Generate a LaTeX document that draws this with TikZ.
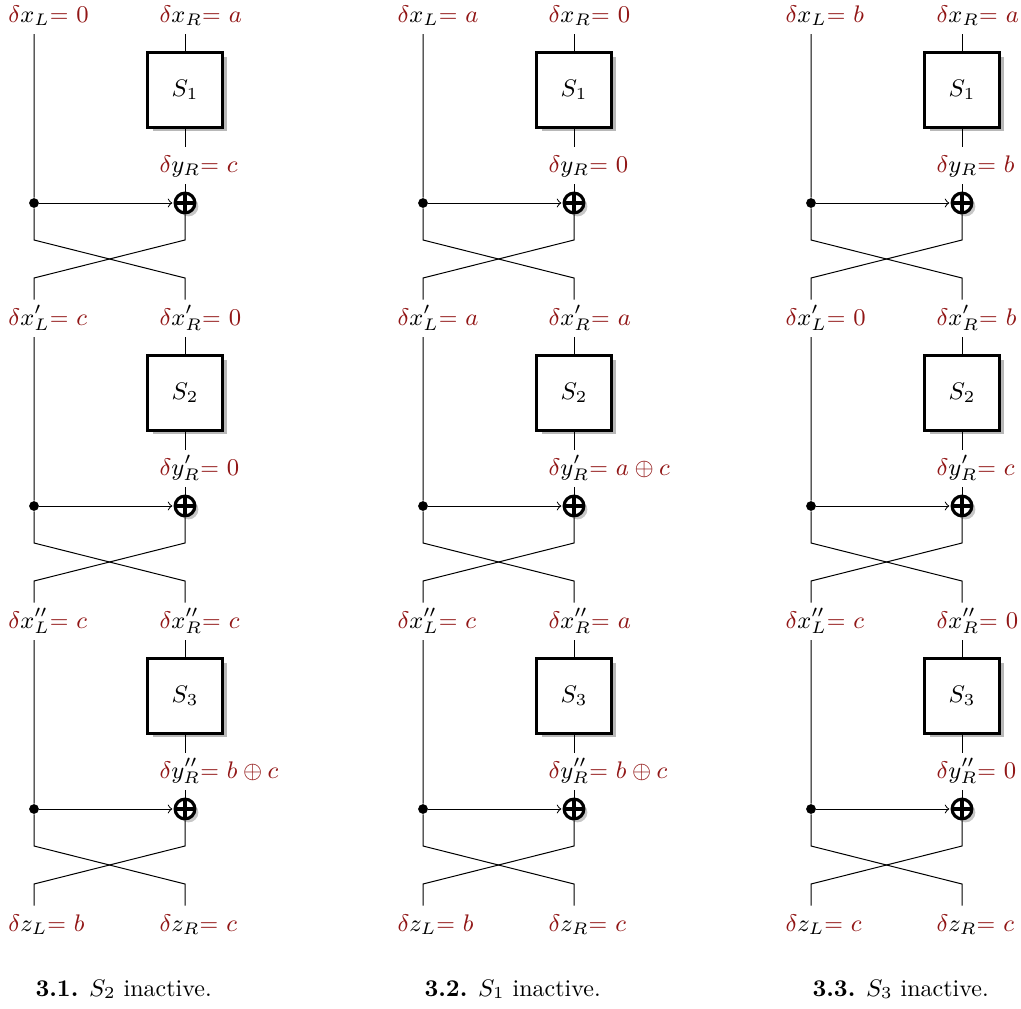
\RequirePackage{fix-cm}
\documentclass[tikz,border=0pt]{standalone}
\usetikzlibrary{shadows}
\definecolor{dred}{RGB}{145,22,22}
\newcommand\rd[1]{\textcolor{dred}{#1}}
\tikzset{
  every node/.style={font=\fontsize{9.6pt}{11.5pt}\selectfont},
  lab/.style={anchor=base west, inner sep=0pt, text height=10pt, text depth=4.6pt},
  sbox/.style={draw, fill=white, line width=1.3pt, minimum size=29.8pt, inner sep=0pt,
    drop shadow={shadow xshift=2pt, shadow yshift=-1.5pt, fill=black!28, opacity=1}},
  xorn/.style={circle, draw, fill=white, line width=1.25pt, minimum size=7.9pt, inner sep=0pt,
    drop shadow={shadow xshift=1.4pt, shadow yshift=-1.4pt, fill=black!22, opacity=1}},
  xorbar/.style={line width=1.25pt},
  dotn/.style={circle, fill, inner sep=0pt, minimum size=3.9pt},
  wire/.style={line width=0.4pt},
  capn/.style={anchor=base west, inner sep=0pt},
}
% #1 name, #2 Y offset, #3 variable, #4 prime, #5 L value, #6 R value
\newcommand\xlabs[6]{%
  \begin{scope}[shift={(0,#2)}]
    \node[lab] (#1L) at (8,22) {\rd{$\delta$}$#3#4_L$\rd{= $#5$}};
    \node[lab] (#1R) at (159,22) {\rd{$\delta$}$#3#4_R$\rd{= $#6$}};
  \end{scope}}
% #1 name, #2 Y offset, #3 prime, #4 y value, #5 S index, #6 in labels, #7 out labels
\newcommand\fround[7]{%
  \begin{scope}[shift={(0,#2)}]
    \node[sbox] (#1S) at (185,90) {$S_{#5}$};
    \node[lab] (#1Y) at (159,172) {\rd{$\delta$}$y#3_R$\rd{= $#4$}};
    \node[xorn] (#1X) at (185,203) {};
    \node[dotn] (#1D) at (34,203) {};
    \coordinate (#1A) at (34,240);
    \coordinate (#1B) at (185,240);
    \coordinate (#1C) at (34,278);
    \coordinate (#1E) at (185,278);
  \end{scope}
  \draw[xorbar] (#1X.north) -- (#1X.south) (#1X.west) -- (#1X.east);
  \draw[wire] (#1D |- #6L.south) -- (#1D) -- (#1A) -- (#1E) -- (#1E |- #7R.north);
  \draw[wire] (#1S |- #6R.south) -- (#1S.north);
  \draw[wire] (#1S.south) -- (#1S |- #1Y.north);
  \draw[wire] (#1S |- #1Y.south) -- (#1X.north);
  \draw[wire] (#1X.south) -- (#1B) -- (#1C) -- (#1C |- #7L.north);
  \draw[wire,->,shorten >=0.5pt] (#1D) -- (#1X.west);
}
\begin{document}
\begin{tikzpicture}[x=0.4pt,y=-0.4pt]
\useasboundingbox (0,0) rectangle (1021,1008);
% column 1
\begin{scope}
  \xlabs{a0}{0}{x}{}{0}{a}
  \xlabs{a1}{303}{x}{'}{c}{0}
  \xlabs{a2}{606}{x}{''}{c}{c}
  \xlabs{a3}{909}{z}{}{b}{c}
  \fround{ar1}{0}{}{c}{1}{a0}{a1}
  \fround{ar2}{303}{'}{0}{2}{a1}{a2}
  \fround{ar3}{606}{''}{b\oplus c}{3}{a2}{a3}
  \node[capn] (capa) at (35,996) {\textbf{3.1.} $S_2$ inactive.};
\end{scope}
% column 2
\begin{scope}[shift={(389,0)}]
  \xlabs{b0}{0}{x}{}{a}{0}
  \xlabs{b1}{303}{x}{'}{a}{a}
  \xlabs{b2}{606}{x}{''}{c}{a}
  \xlabs{b3}{909}{z}{}{b}{c}
  \fround{br1}{0}{}{0}{1}{b0}{b1}
  \fround{br2}{303}{'}{a\oplus c}{2}{b1}{b2}
  \fround{br3}{606}{''}{b\oplus c}{3}{b2}{b3}
  \node[capn] (capb) at (35,996) {\textbf{3.2.} $S_1$ inactive.};
\end{scope}
% column 3
\begin{scope}[shift={(777,0)}]
  \xlabs{c0}{0}{x}{}{b}{a}
  \xlabs{c1}{303}{x}{'}{0}{b}
  \xlabs{c2}{606}{x}{''}{c}{0}
  \xlabs{c3}{909}{z}{}{c}{c}
  \fround{cr1}{0}{}{b}{1}{c0}{c1}
  \fround{cr2}{303}{'}{c}{2}{c1}{c2}
  \fround{cr3}{606}{''}{0}{3}{c2}{c3}
  \node[capn] (capc) at (35,996) {\textbf{3.3.} $S_3$ inactive.};
\end{scope}
\end{tikzpicture}
\end{document}
